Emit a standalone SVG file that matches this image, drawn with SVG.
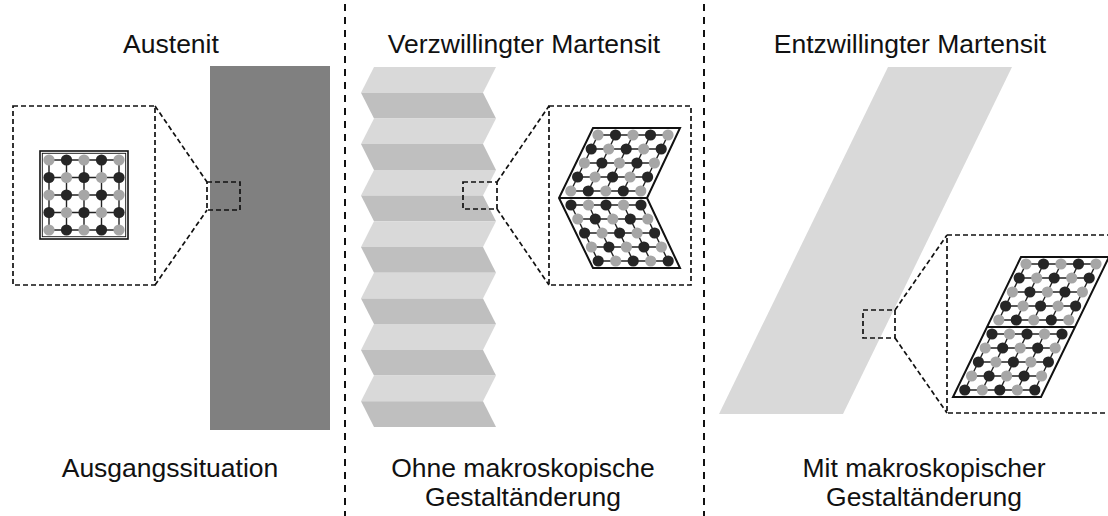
<svg xmlns="http://www.w3.org/2000/svg" xmlns:xlink="http://www.w3.org/1999/xlink" width="1108" height="516" viewBox="0 0 1108 516">
  <style>
    .label { font-family: "Liberation Sans", Arial, sans-serif; font-size: 26.5px; fill: #111; text-anchor: middle; }
    .divider { stroke: #111; stroke-width: 2; stroke-dasharray: 7 6; fill: none; }
    .zoom { stroke: #111; stroke-width: 1.7; stroke-dasharray: 5 3; fill: none; }
    .cell { stroke: #111; stroke-width: 2; fill: none; }
    .bond { stroke: #222; stroke-width: 1.4; fill: none; }
    .ga { fill: #a6a6a6; }
    .bk { fill: #262626; }
    .light { fill: #d9d9d9; }
    .dark { fill: #bfbfbf; }
  </style>
  <defs>
    <!-- one row of five atoms, starting grey -->
    <g id="rowA">
      <line class="bond" x1="0" y1="0" x2="70" y2="0"/>
      <circle class="ga" cx="0" cy="0" r="5.6"/>
      <circle class="bk" cx="17.5" cy="0" r="5.6"/>
      <circle class="ga" cx="35" cy="0" r="5.6"/>
      <circle class="bk" cx="52.5" cy="0" r="5.6"/>
      <circle class="ga" cx="70" cy="0" r="5.6"/>
    </g>
    <!-- one row of five atoms, starting black -->
    <g id="rowB">
      <line class="bond" x1="0" y1="0" x2="70" y2="0"/>
      <circle class="bk" cx="0" cy="0" r="5.6"/>
      <circle class="ga" cx="17.5" cy="0" r="5.6"/>
      <circle class="bk" cx="35" cy="0" r="5.6"/>
      <circle class="ga" cx="52.5" cy="0" r="5.6"/>
      <circle class="bk" cx="70" cy="0" r="5.6"/>
    </g>
  </defs>

  <rect width="1108" height="516" fill="#fff"/>

  <!-- section dividers -->
  <g id="dividers">
    <line class="divider" x1="345" y1="4" x2="345" y2="516"/>
    <line class="divider" x1="704" y1="4" x2="704" y2="516"/>
  </g>

  <!-- Austenite: bulk sample -->
  <g id="austenite-sample">
    <rect x="210" y="66" width="120" height="364" fill="#808080"/>
  </g>

  <!-- Austenite: cubic lattice close-up -->
  <g id="austenite-lattice">
    <rect x="13" y="106" width="142" height="179" fill="#fff"/>
    <rect x="40" y="151" width="88" height="88" fill="#fff" stroke="#111" stroke-width="1.6"/>
    <rect x="42.3" y="153.3" width="83.4" height="83.4" fill="none" stroke="#111" stroke-width="0.9"/>
    <g class="bond">
      <line x1="49" y1="160" x2="49" y2="230"/>
      <line x1="66.5" y1="160" x2="66.5" y2="230"/>
      <line x1="84" y1="160" x2="84" y2="230"/>
      <line x1="101.5" y1="160" x2="101.5" y2="230"/>
      <line x1="119" y1="160" x2="119" y2="230"/>
    </g>
    <use xlink:href="#rowA" href="#rowA" x="49" y="160"/>
    <use xlink:href="#rowB" href="#rowB" x="49" y="177.5"/>
    <use xlink:href="#rowA" href="#rowA" x="49" y="195"/>
    <use xlink:href="#rowB" href="#rowB" x="49" y="212.5"/>
    <use xlink:href="#rowA" href="#rowA" x="49" y="230"/>
  </g>

  <!-- Twinned martensite: zig-zag stack of variants -->
  <g id="twinned-sample">
    <polygon class="light" points="374,67 496,67 483,92.7 361,92.7"/>
    <polygon class="dark" points="361,92.7 483,92.7 496,118.4 374,118.4"/>
    <polygon class="light" points="374,118.4 496,118.4 483,144.1 361,144.1"/>
    <polygon class="dark" points="361,144.1 483,144.1 496,169.9 374,169.9"/>
    <polygon class="light" points="374,169.9 496,169.9 483,195.6 361,195.6"/>
    <polygon class="dark" points="361,195.6 483,195.6 496,221.3 374,221.3"/>
    <polygon class="light" points="374,221.3 496,221.3 483,247 361,247"/>
    <polygon class="dark" points="361,247 483,247 496,272.7 374,272.7"/>
    <polygon class="light" points="374,272.7 496,272.7 483,298.4 361,298.4"/>
    <polygon class="dark" points="361,298.4 483,298.4 496,324.1 374,324.1"/>
    <polygon class="light" points="374,324.1 496,324.1 483,349.9 361,349.9"/>
    <polygon class="dark" points="361,349.9 483,349.9 496,375.6 374,375.6"/>
    <polygon class="light" points="374,375.6 496,375.6 483,401.3 361,401.3"/>
    <polygon class="dark" points="361,401.3 483,401.3 496,427 374,427"/>
  </g>

  <!-- Twinned martensite: chevron lattice close-up -->
  <g id="twinned-lattice">
    <rect x="549" y="106" width="142" height="179" fill="#fff"/>
    <g class="bond">
      <line x1="598" y1="135" x2="570.8" y2="191"/>
      <line x1="615.5" y1="135" x2="588.3" y2="191"/>
      <line x1="633" y1="135" x2="605.8" y2="191"/>
      <line x1="650.5" y1="135" x2="623.3" y2="191"/>
      <line x1="668" y1="135" x2="640.8" y2="191"/>
      <line x1="571" y1="205" x2="598.2" y2="261"/>
      <line x1="588.5" y1="205" x2="615.7" y2="261"/>
      <line x1="606" y1="205" x2="633.2" y2="261"/>
      <line x1="623.5" y1="205" x2="650.7" y2="261"/>
      <line x1="641" y1="205" x2="668.2" y2="261"/>
    </g>
    <use xlink:href="#rowA" href="#rowA" x="598" y="135"/>
    <use xlink:href="#rowB" href="#rowB" x="591.2" y="149"/>
    <use xlink:href="#rowA" href="#rowA" x="584.4" y="163"/>
    <use xlink:href="#rowB" href="#rowB" x="577.6" y="177"/>
    <use xlink:href="#rowA" href="#rowA" x="570.8" y="191"/>
    <use xlink:href="#rowB" href="#rowB" x="571" y="205"/>
    <use xlink:href="#rowA" href="#rowA" x="577.8" y="219"/>
    <use xlink:href="#rowB" href="#rowB" x="584.6" y="233"/>
    <use xlink:href="#rowA" href="#rowA" x="591.4" y="247"/>
    <use xlink:href="#rowB" href="#rowB" x="598.2" y="261"/>
    <polygon class="cell" points="593,128 680,128 647,198 680,268 593,268 559,198"/>
    <line class="cell" x1="559" y1="198" x2="647" y2="198"/>
  </g>

  <!-- Detwinned martensite: sheared bulk sample -->
  <g id="detwinned-sample">
    <polygon class="light" points="888,67 1012,67 843,414 719,414"/>
  </g>

  <!-- Detwinned martensite: single-variant lattice close-up -->
  <g id="detwinned-lattice">
    <rect x="947" y="235" width="170" height="178" fill="#fff"/>
    <g class="bond">
      <line x1="1026" y1="264" x2="998.8" y2="320"/>
      <line x1="1043.5" y1="264" x2="1016.3" y2="320"/>
      <line x1="1061" y1="264" x2="1033.8" y2="320"/>
      <line x1="1078.5" y1="264" x2="1051.3" y2="320"/>
      <line x1="1096" y1="264" x2="1068.8" y2="320"/>
      <line x1="992" y1="334" x2="964.8" y2="390"/>
      <line x1="1009.5" y1="334" x2="982.3" y2="390"/>
      <line x1="1027" y1="334" x2="999.8" y2="390"/>
      <line x1="1044.5" y1="334" x2="1017.3" y2="390"/>
      <line x1="1062" y1="334" x2="1034.8" y2="390"/>
    </g>
    <use xlink:href="#rowA" href="#rowA" x="1026" y="264"/>
    <use xlink:href="#rowB" href="#rowB" x="1019.2" y="278"/>
    <use xlink:href="#rowA" href="#rowA" x="1012.4" y="292"/>
    <use xlink:href="#rowB" href="#rowB" x="1005.6" y="306"/>
    <use xlink:href="#rowA" href="#rowA" x="998.8" y="320"/>
    <use xlink:href="#rowB" href="#rowB" x="992" y="334"/>
    <use xlink:href="#rowA" href="#rowA" x="985.2" y="348"/>
    <use xlink:href="#rowB" href="#rowB" x="978.4" y="362"/>
    <use xlink:href="#rowA" href="#rowA" x="971.6" y="376"/>
    <use xlink:href="#rowB" href="#rowB" x="964.8" y="390"/>
    <polygon class="cell" points="1021,257 1109,257 1041,397 953,397"/>
    <line class="cell" x1="987" y1="327" x2="1075" y2="327"/>
  </g>

  <!-- magnifier frames and their leader lines -->
  <g id="connectors">
    <rect class="zoom" x="13" y="106" width="142" height="179"/>
    <rect class="zoom" x="207" y="182" width="33" height="28"/>
    <line class="zoom" x1="155" y1="106" x2="207" y2="182"/>
    <line class="zoom" x1="155" y1="285" x2="207" y2="210"/>

    <rect class="zoom" x="549" y="106" width="142" height="179"/>
    <rect class="zoom" x="463" y="182" width="34" height="27"/>
    <line class="zoom" x1="497" y1="182" x2="549" y2="106"/>
    <line class="zoom" x1="497" y1="209" x2="549" y2="285"/>

    <path class="zoom" d="M1112,235 H947 V413 H1112"/>
    <rect class="zoom" x="863" y="310" width="32" height="28"/>
    <line class="zoom" x1="895" y1="310" x2="947" y2="235"/>
    <line class="zoom" x1="895" y1="338" x2="947" y2="413"/>
  </g>

  <!-- headings -->
  <g id="titles">
    <text class="label" x="171" y="53">Austenit</text>
    <text class="label" x="524" y="53">Verzwillingter Martensit</text>
    <text class="label" x="910" y="53">Entzwillingter Martensit</text>
  </g>

  <!-- captions -->
  <g id="captions">
    <text class="label" x="170" y="477">Ausgangssituation</text>
    <text class="label" x="523" y="477">Ohne makroskopische</text>
    <text class="label" x="523" y="506">Gestaltänderung</text>
    <text class="label" x="924" y="477">Mit makroskopischer</text>
    <text class="label" x="924" y="506">Gestaltänderung</text>
  </g>
</svg>
